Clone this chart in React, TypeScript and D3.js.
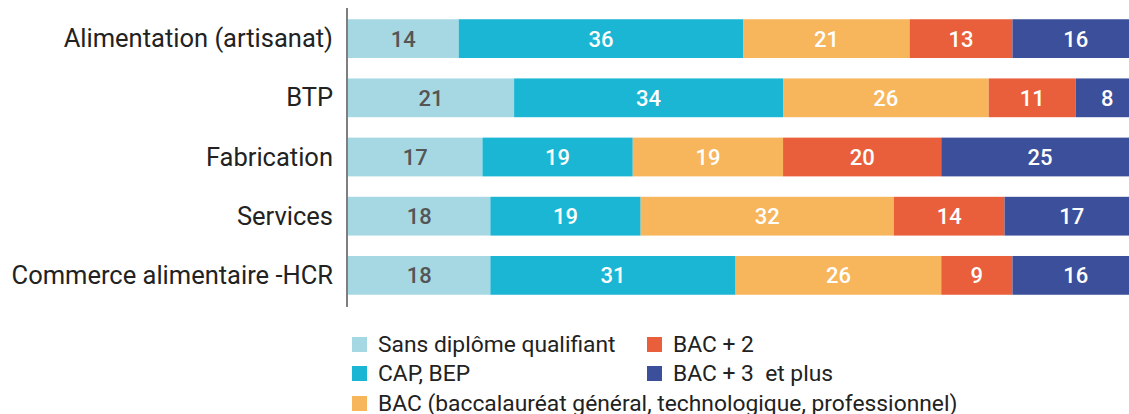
import React from "react";
import * as d3 from "d3";

const categories = ["Alimentation (artisanat)", "BTP", "Fabrication", "Services", "Commerce alimentaire -HCR"];
const seriesNames = ["Sans diplôme qualifiant", "CAP, BEP", "BAC (baccalauréat général, technologique, professionnel)", "BAC + 2", "BAC + 3  et plus"];
const sansDiplome = [14, 21, 17, 18, 18];
const capBep = [36, 34, 19, 19, 31];
const bac = [21, 26, 19, 32, 26];
const bac2 = [13, 11, 20, 14, 9];
const bac3 = [16, 8, 25, 17, 16];
const colors = ["#a6d8e3", "#1bb6d3", "#f7b55c", "#e95f3c", "#3c4f9a"];
const textColors = ["#555555", "#ffffff", "#ffffff", "#ffffff", "#ffffff"];

const W = 1129, H = 414;
const FONT = "Roboto, 'DejaVu Sans', sans-serif";

export default function App() {
  const seriesValues = [sansDiplome, capBep, bac, bac2, bac3];
  const rows = categories.map((c, i) => {
    const r: any = { cat: c };
    seriesNames.forEach((s, j) => (r[s] = seriesValues[j][i]));
    return r;
  });
  const stack = d3.stack<any>().keys(seriesNames)(rows);
  const x = d3.scaleLinear().domain([0, 100]).range([348, 1139]);
  const y = d3.scaleBand().domain(categories).range([8, 306]).paddingInner(0.345).paddingOuter(0.19);

  const legendPos = [
    { x: 352, y: 337 },
    { x: 352, y: 366 },
    { x: 352, y: 396 },
    { x: 647, y: 337 },
    { x: 647, y: 366 },
  ];

  return (
    <svg width={W} height={H} style={{ position: "absolute", left: 0, top: 0, background: "#fff" }} fontFamily={FONT}>
      {stack.map((layer, si) => (
        <g key={si}>
          {layer.map((d, i) => {
            const x0 = x(d[0]);
            const x1 = x(d[1]);
            const yy = y(categories[i])!;
            return (
              <g key={i}>
                <rect x={x0} y={yy} width={x1 - x0} height={y.bandwidth()} fill={colors[si]} />
                <text
                  x={(x0 + x1) / 2}
                  y={yy + y.bandwidth() / 2}
                  dy="0.36em"
                  textAnchor="middle"
                  fontSize={22}
                  fontWeight={500}
                  fill={textColors[si]}
                >
                  {d[1] - d[0]}
                </text>
              </g>
            );
          })}
        </g>
      ))}
      <line x1={347} x2={347} y1={8} y2={307} stroke="#555" strokeWidth={1.5} />
      {categories.map((c) => (
        <text key={c} x={333} y={y(c)! + y.bandwidth() / 2} dy="0.34em" textAnchor="end" fontSize={25.5} fill="#222">
          {c}
        </text>
      ))}
      {seriesNames.map((s, i) => (
        <g key={s}>
          <rect x={legendPos[i].x} y={legendPos[i].y} width={15} height={15} fill={colors[i]} />
          <text
            x={legendPos[i].x + 26}
            y={legendPos[i].y + 7}
            dy="0.36em"
            fontSize={22.8}
            fill="#222"
            style={{ whiteSpace: "pre" }}
          >
            {s}
          </text>
        </g>
      ))}
    </svg>
  );
}
